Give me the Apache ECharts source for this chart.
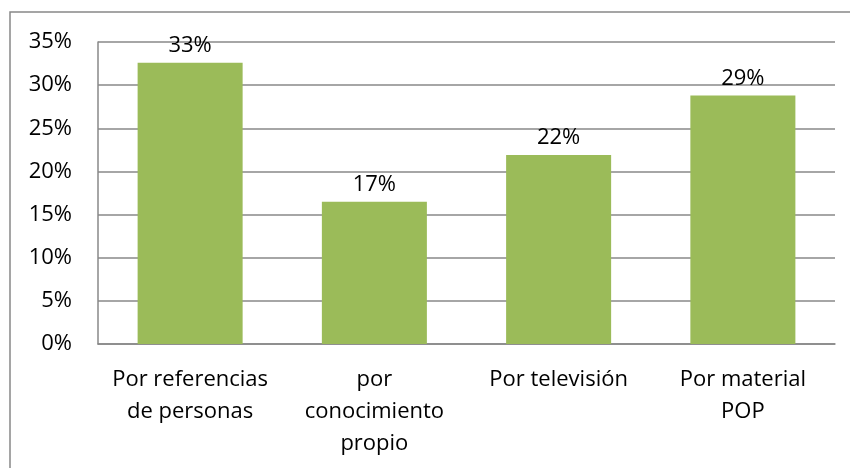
<!DOCTYPE html>
<html>
<head>
<meta charset="utf-8">
<script src="https://cdn.jsdelivr.net/npm/echarts@6/dist/echarts.min.js"></script>
<style>
  html, body { margin: 0; padding: 0; background: #fff; }
  #main { width: 850px; height: 468px; }
</style>
</head>
<body>
<div id="main"></div>
<script>
var categories = ['Por referencias\nde personas', 'por\nconocimiento\npropio', 'Por televisión', 'Por material\nPOP'];
var values = [0.326, 0.165, 0.219, 0.288];
var yTicks = [0, 0.05, 0.10, 0.15, 0.20, 0.25, 0.30, 0.35];

var chart = echarts.init(document.getElementById('main'));
var fontName = 'Open Sans';
var option = {
    animation: false,
    graphic: [{
        type: 'rect',
        shape: { x: 10, y: 12, width: 900, height: 500 },
        style: { fill: 'none', stroke: '#888', lineWidth: 1.5 },
        silent: true
    }],
    grid: {
        left: 98,
        right: 15,
        top: 42,
        bottom: 124
    },
    xAxis: {
        type: 'category',
        data: categories,
        axisTick: { show: false },
        axisLine: { lineStyle: { color: '#888', width: 1.5 } },
        axisLabel: {
            color: '#000',
            fontFamily: fontName,
            fontSize: 22,
            lineHeight: 32,
            margin: 20,
            interval: 0
        }
    },
    yAxis: {
        type: 'value',
        min: 0,
        max: yTicks[yTicks.length - 1],
        interval: 0.05,
        axisLine: { show: true, lineStyle: { color: '#888', width: 1.5 } },
        axisTick: { show: false },
        splitLine: { lineStyle: { color: '#888', width: 1.5 } },
        axisLabel: {
            color: '#000',
            fontFamily: fontName,
            fontSize: 22,
            margin: 26,
            formatter: function (v) { return Math.round(v * 100) + '%'; }
        }
    },
    series: [{
        type: 'bar',
        data: values,
        barWidth: '57%',
        itemStyle: { color: '#9BBB59' },
        label: {
            show: true,
            position: 'top',
            distance: 6,
            color: '#000',
            fontFamily: fontName,
            fontSize: 22,
            formatter: function (p) { return Math.round(p.value * 100) + '%'; }
        }
    }]
};
chart.setOption(option);
</script>
</body>
</html>
